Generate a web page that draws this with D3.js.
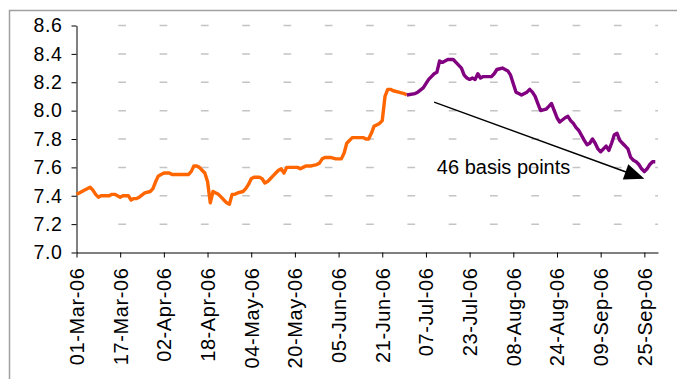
<!DOCTYPE html>
<html>
<head>
<meta charset="utf-8">
<script src="https://cdn.jsdelivr.net/npm/d3@7/dist/d3.min.js"></script>
<style>
  html, body { margin: 0; padding: 0; background: #fff; }
  svg { display: block; }
  text { font-family: "Liberation Sans", Arial, sans-serif; fill: #000; }
</style>
</head>
<body>
<svg id="chart" width="677" height="379"></svg>
<script>
// Daily yield, Mar–Sep 2006 (percent)
const dates = [
  "2006-03-01","2006-03-02","2006-03-04","2006-03-06","2006-03-07","2006-03-08","2006-03-09","2006-03-10",
  "2006-03-13","2006-03-14","2006-03-15","2006-03-16","2006-03-17","2006-03-18","2006-03-20","2006-03-21",
  "2006-03-22","2006-03-23","2006-03-24","2006-03-26","2006-03-28","2006-03-29","2006-03-30","2006-03-31",
  "2006-04-02","2006-04-04","2006-04-05","2006-04-11","2006-04-12","2006-04-13","2006-04-14","2006-04-15",
  "2006-04-16","2006-04-17","2006-04-18","2006-04-19","2006-04-20","2006-04-21","2006-04-22","2006-04-23",
  "2006-04-24","2006-04-25","2006-04-26","2006-04-27","2006-04-28","2006-04-29","2006-05-01","2006-05-02",
  "2006-05-03","2006-05-04","2006-05-05","2006-05-07","2006-05-08","2006-05-09","2006-05-10","2006-05-11",
  "2006-05-12","2006-05-13","2006-05-14","2006-05-15","2006-05-16","2006-05-17","2006-05-19","2006-05-21",
  "2006-05-22","2006-05-23","2006-05-24","2006-05-26","2006-05-28","2006-05-29","2006-05-30","2006-05-31",
  "2006-06-02","2006-06-04","2006-06-05","2006-06-06","2006-06-07","2006-06-08","2006-06-10","2006-06-12",
  "2006-06-14","2006-06-15","2006-06-16","2006-06-17","2006-06-18","2006-06-20","2006-06-21","2006-06-22",
  "2006-06-23","2006-06-24","2006-06-25","2006-06-27","2006-06-29","2006-06-30",
  "2006-07-03","2006-07-04","2006-07-06","2006-07-07","2006-07-08","2006-07-09","2006-07-10","2006-07-11",
  "2006-07-12","2006-07-13","2006-07-14","2006-07-15","2006-07-17","2006-07-18","2006-07-20","2006-07-21",
  "2006-07-22","2006-07-23","2006-07-24","2006-07-25","2006-07-26","2006-07-27","2006-07-28","2006-07-30",
  "2006-07-31","2006-08-01","2006-08-02","2006-08-04","2006-08-06","2006-08-07","2006-08-08","2006-08-09",
  "2006-08-10","2006-08-11","2006-08-13","2006-08-14","2006-08-15","2006-08-16","2006-08-17","2006-08-18",
  "2006-08-20","2006-08-21","2006-08-22","2006-08-23","2006-08-24","2006-08-25","2006-08-27","2006-08-28",
  "2006-08-29","2006-08-30","2006-08-31","2006-09-01","2006-09-03","2006-09-04","2006-09-05","2006-09-06",
  "2006-09-07","2006-09-08","2006-09-09","2006-09-11","2006-09-12","2006-09-13","2006-09-14","2006-09-15",
  "2006-09-16","2006-09-17","2006-09-19","2006-09-20","2006-09-21","2006-09-22","2006-09-23","2006-09-24",
  "2006-09-25","2006-09-26","2006-09-27","2006-09-28","2006-09-29"
];
const values = [
  7.41,7.42,7.44,7.46,7.44,7.41,7.39,7.40,
  7.40,7.41,7.41,7.40,7.39,7.40,7.40,7.37,
  7.38,7.38,7.39,7.42,7.43,7.45,7.50,7.54,
  7.56,7.56,7.55,7.55,7.57,7.61,7.61,7.60,
  7.58,7.56,7.50,7.35,7.43,7.42,7.41,7.39,
  7.37,7.35,7.34,7.41,7.41,7.42,7.43,7.45,
  7.48,7.52,7.53,7.53,7.52,7.49,7.50,7.52,
  7.54,7.56,7.58,7.59,7.56,7.60,7.60,7.60,
  7.59,7.60,7.61,7.61,7.62,7.63,7.66,7.67,
  7.67,7.66,7.66,7.66,7.70,7.77,7.81,7.81,
  7.81,7.80,7.80,7.84,7.89,7.91,7.93,8.10,
  8.15,8.15,8.14,8.13,8.12,8.11,
  8.12,8.13,8.16,8.19,8.22,8.24,8.26,8.27,
  8.35,8.34,8.35,8.36,8.36,8.34,8.30,8.25,
  8.23,8.22,8.23,8.22,8.26,8.23,8.24,8.24,
  8.24,8.26,8.29,8.30,8.28,8.25,8.19,8.13,
  8.12,8.11,8.13,8.15,8.13,8.10,8.05,8.00,
  8.01,8.03,8.05,8.00,7.95,7.92,7.95,7.96,
  7.93,7.91,7.88,7.86,7.79,7.76,7.77,7.80,
  7.77,7.73,7.71,7.75,7.72,7.77,7.83,7.84,
  7.79,7.77,7.73,7.67,7.65,7.64,7.62,7.59,
  7.57,7.59,7.62,7.64,7.64
];
// The second half of the series (from this date on) is drawn in purple
const splitDate = "2006-06-30";
const seriesColors = ["#ff6600", "#800080"];

const xDomain = ["2006-03-01", "2006-09-30"];
const xTickDates = ["2006-03-01","2006-03-17","2006-04-02","2006-04-18","2006-05-04","2006-05-20","2006-06-05",
                    "2006-06-21","2006-07-07","2006-07-23","2006-08-08","2006-08-24","2006-09-09","2006-09-25"];
const yTicks = [7.0, 7.2, 7.4, 7.6, 7.8, 8.0, 8.2, 8.4, 8.6];

// Annotation arrow (date, value) and its label
const arrowFrom = ["2006-07-10", 8.06];
const arrowTo = ["2006-09-25", 7.52];
const annotationText = "46 basis points";
const annotationAt = ["2006-07-11", 7.55];

const parse = d3.utcParse("%Y-%m-%d");
const fmt = d3.utcFormat("%d-%b-%y");

const svg = d3.select("#chart");
svg.append("rect").attr("width", 677).attr("height", 379).attr("fill", "#fff");
// outer frame
svg.append("rect")
  .attr("x", 9.5).attr("y", 10.5).attr("width", 720).attr("height", 420)
  .attr("fill", "none").attr("stroke", "#a0a0a0").attr("stroke-width", 1.5);

const x = d3.scaleUtc().domain(xDomain.map(parse)).range([76.5, 658]);
const y = d3.scaleLinear().domain([7.0, 8.6]).range([252.5, 25.5]);

// dashed horizontal gridlines
svg.append("g").selectAll("line")
  .data(yTicks.filter(v => v > 7.0))
  .join("line")
  .attr("x1", 118.3).attr("x2", x.range()[1])
  .attr("y1", d => y(d)).attr("y2", d => y(d))
  .attr("stroke", "#c4c4c4").attr("stroke-width", 1.5)
  .attr("stroke-dasharray", "7.7 33.6");

// y axis
const yAxis = svg.append("g")
  .attr("transform", `translate(${x.range()[0]},0)`)
  .call(d3.axisLeft(y).tickValues(yTicks).tickFormat(d3.format(".1f")).tickSize(5).tickSizeOuter(0));
yAxis.selectAll("text")
  .attr("x", -14)
  .style("font-size", "19.5px").style("letter-spacing", "0.6px")
  .attr("font-family", null);

// x axis
const xAxis = svg.append("g")
  .attr("transform", `translate(0,${y(7.0)})`)
  .call(d3.axisBottom(x).tickValues(xTickDates.map(parse)).tickFormat(fmt).tickSize(5).tickSizeOuter(0));
xAxis.selectAll("text")
  .attr("transform", "rotate(-90)")
  .attr("text-anchor", "end")
  .attr("x", -15).attr("y", 0).attr("dy", "0.35em")
  .style("font-size", "20px").style("letter-spacing", "0.6px")
  .attr("font-family", null);

[yAxis, xAxis].forEach(g => {
  g.selectAll("path.domain").attr("stroke", "#000").attr("stroke-width", 1);
  g.selectAll(".tick line").attr("stroke", "#000");
  g.attr("font-family", null).attr("font-size", null);
});

// series
const pts = dates.map((d, i) => ({ date: parse(d), value: values[i] }));
const split = parse(splitDate);
const parts = [pts.filter(p => p.date <= split), pts.filter(p => p.date >= split)];
const line = d3.line().x(p => x(p.date)).y(p => y(p.value));
svg.append("g").selectAll("path")
  .data(parts)
  .join("path")
  .attr("d", line)
  .attr("fill", "none")
  .attr("stroke", (d, i) => seriesColors[i])
  .attr("stroke-width", 3.4)
  .attr("stroke-linejoin", "round");

// arrow
const x1 = x(parse(arrowFrom[0])), y1 = y(arrowFrom[1]);
const x2 = x(parse(arrowTo[0])), y2 = y(arrowTo[1]);
const len = Math.hypot(x2 - x1, y2 - y1);
const ux = (x2 - x1) / len, uy = (y2 - y1) / len;
const headLen = 20, headHalf = 8;
const bx = x2 - ux * headLen, by = y2 - uy * headLen;
svg.append("line")
  .attr("x1", x1).attr("y1", y1).attr("x2", bx + ux * 2).attr("y2", by + uy * 2)
  .attr("stroke", "#000").attr("stroke-width", 1.5);
svg.append("path")
  .attr("d", `M${x2},${y2}L${bx - uy * headHalf},${by + ux * headHalf}L${bx + uy * headHalf},${by - ux * headHalf}Z`)
  .attr("fill", "#000");

svg.append("text")
  .attr("x", x(parse(annotationAt[0]))).attr("y", y(annotationAt[1]))
  .style("font-size", "20px")
  .text(annotationText);
</script>
</body>
</html>
